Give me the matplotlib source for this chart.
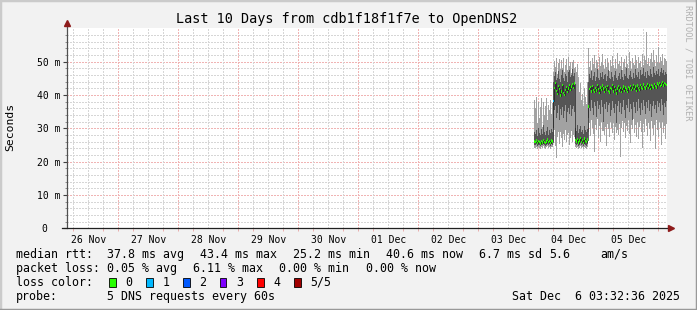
#!/usr/bin/env python3
# -*- coding: utf-8 -*-
"""
SmokePing style chart: Last 10 Days from cdb1f18f1f7e to OpenDNS2
"""

import datetime as dt
import matplotlib
matplotlib.use('Agg')
import matplotlib.pyplot as plt
import matplotlib.dates as mdates
from matplotlib.lines import Line2D
from matplotlib.patches import Rectangle

plt.rcParams['font.family'] = ['DejaVu Sans Mono']

W, H = 697, 310

# time range of graph
end_time = dt.datetime(2025, 12, 6, 3, 32, 36)
start_time = end_time - dt.timedelta(days=10)
data_start = dt.datetime(2025, 12, 3, 22, 20, 36)
step = dt.timedelta(minutes=24)

day_labels = ['26 Nov', '27 Nov', '28 Nov', '29 Nov', '30 Nov',
              '01 Dec', '02 Dec', '03 Dec', '04 Dec', '05 Dec']

# rtt in ms, one value per 24 min step (5 pings sorted: min, 2nd, median, 4th, max)
rtt_min = [
    24.2, 24.0, 24.5, 23.9, 24.3, 24.1, 23.8, 24.4, 24.0, 24.6, 24.2, 23.9, 24.3, 24.7, 24.0, 24.4, 23.9, 24.5, 24.3,
    26.0, 29.5, 24.8, 21.0, 27.5, 28.8, 25.2, 29.0, 27.0, 24.5, 28.2, 26.4, 29.4, 25.8, 27.9, 28.6, 24.9, 27.2, 29.2, 26.0, 28.0, 27.5,
    24.3, 24.0, 24.5, 23.9, 24.2, 24.6, 24.0, 24.3, 23.8, 24.5, 24.1, 23.9, 24.4,
    29.0, 31.5, 27.8, 32.6, 30.2, 28.4, 23.0, 31.0, 29.6, 32.8, 27.2, 30.8, 26.0, 31.9, 29.1, 29.3, 28.0, 30.5, 24.8, 31.4,
    29.8, 27.5, 32.0, 30.1, 28.7, 31.7, 26.5, 30.3, 28.5, 29.4, 27.9, 31.2, 21.5, 30.0, 32.2, 28.9, 31.6, 27.0, 30.7, 29.3,
    32.4, 28.2, 25.5, 31.1, 29.9, 32.7, 28.5, 30.9, 27.4, 31.8, 26.8, 30.4, 32.1, 29.0, 24.2, 31.3, 28.8, 32.9, 30.6, 27.7,
    31.5, 29.7, 26.2, 32.3, 30.2, 28.1, 31.0, 23.8, 32.6, 29.5, 27.3, 31.9, 30.1, 25.0, 32.0, 28.6, 30.8, 26.7, 31.2,
]
rtt_p2 = [
    25.0, 24.9, 25.2, 24.8, 25.1, 25.0, 24.7, 25.2, 24.9, 25.3, 25.0, 24.8, 25.1, 25.4, 24.9, 25.2, 24.8, 25.3, 25.1,
    30.0, 35.5, 36.8, 33.2, 34.6, 37.0, 32.5, 35.8, 34.0, 36.5, 33.0, 35.2, 36.9, 31.8, 35.0, 36.2, 34.4, 37.1, 33.6, 35.9, 36.6, 34.8,
    25.2, 24.9, 25.4, 24.8, 25.0, 25.5, 24.9, 25.2, 24.7, 25.4, 25.0, 24.8, 25.3,
    33.0, 37.5, 35.2, 38.4, 36.0, 34.1, 37.9, 36.6, 33.5, 38.2, 35.7, 37.0, 34.4, 38.6, 36.3, 32.0, 37.4, 35.9, 38.0, 34.8,
    36.9, 37.7, 33.8, 35.4, 38.3, 36.1, 34.6, 37.2, 31.5, 36.7, 38.1, 35.0, 37.6, 34.2, 36.4, 38.5, 35.6, 33.2, 37.1, 36.0,
    38.7, 34.9, 37.3, 35.8, 32.6, 38.0, 36.5, 34.7, 37.8, 35.3, 38.9, 36.2, 33.9, 37.5, 35.5, 38.4, 36.8, 34.3, 37.9, 36.0,
    38.6, 35.1, 37.2, 33.4, 36.6, 38.3, 35.7, 37.0, 34.6, 38.1, 36.3, 37.6, 35.2, 38.8, 36.9, 34.0, 37.7, 36.4, 38.2,
]
rtt_median = [
    26.0, 25.8, 26.3, 25.6, 26.1, 25.9, 25.4, 26.2, 25.7, 26.4, 25.9, 25.5, 26.0, 26.6, 25.8, 26.2, 25.6, 26.3, 26.0,
    38.2, 42.0, 43.5, 41.2, 40.3, 42.6, 41.8, 39.8, 41.0, 42.9, 40.6, 39.9, 41.5, 42.3, 40.8, 41.9, 43.0, 41.4, 42.5, 43.2, 42.1, 43.4,
    26.5, 26.0, 26.8, 25.7, 26.3, 27.0, 25.9, 26.4, 25.6, 26.9, 26.2, 25.8, 26.6,
    36.5, 41.8, 42.3, 41.0, 42.6, 41.5, 40.8, 42.0, 41.3, 42.9, 41.7, 40.6, 42.2, 41.4, 42.8, 41.9, 40.9, 42.4, 41.6, 42.7,
    41.2, 40.7, 42.1, 41.8, 42.9, 41.0, 42.3, 41.5, 40.4, 41.9, 42.6, 41.3, 42.0, 40.9, 41.7, 42.5, 41.1, 42.2, 41.6, 40.8,
    42.4, 41.9, 42.7, 41.4, 42.1, 43.0, 41.8, 42.5, 41.2, 42.8, 42.0, 41.5, 42.9, 42.2, 41.7, 43.1, 42.4, 41.9, 42.6, 43.2,
    42.0, 42.8, 41.8, 43.0, 42.5, 42.1, 43.3, 42.7, 42.2, 43.4, 42.9, 43.6, 42.6, 43.1, 43.8, 42.8, 43.5, 43.2, 42.9,
]
rtt_p4 = [
    29.0, 28.2, 29.5, 27.8, 30.2, 28.6, 28.0, 29.8, 28.4, 31.0, 28.8, 27.9, 29.2, 30.5, 28.1, 29.4, 28.5, 29.9, 29.0,
    44.0, 45.8, 46.9, 44.5, 45.2, 47.3, 44.8, 43.9, 46.0, 47.5, 45.1, 44.2, 46.4, 45.6, 44.0, 46.8, 47.6, 45.3, 46.1, 47.8, 45.7, 46.5,
    30.0, 29.2, 31.0, 28.6, 29.8, 30.6, 28.9, 29.5, 28.4, 30.8, 29.6, 28.8, 29.9,
    44.0, 46.2, 45.0, 47.3, 44.6, 45.8, 46.9, 44.2, 45.5, 47.8, 45.1, 44.4, 46.6, 45.3, 47.0, 44.8, 45.9, 46.4, 44.1, 45.6,
    47.5, 45.2, 44.7, 46.8, 45.4, 44.3, 46.1, 47.2, 45.0, 44.6, 45.7, 46.5, 44.9, 47.6, 45.3, 44.5, 46.3, 45.8, 48.2, 45.1,
    44.7, 46.0, 47.1, 45.5, 44.9, 46.7, 45.2, 47.9, 46.0, 45.4, 46.8, 44.8, 47.4, 45.9, 46.3, 48.0, 45.6, 46.9, 45.2, 47.3,
    46.1, 45.7, 47.7, 46.4, 45.3, 48.4, 46.6, 45.9, 47.2, 46.2, 47.8, 45.8, 46.9, 48.1, 46.5, 47.4, 46.0, 47.0, 46.3,
]
rtt_max = [
    38.5, 36.0, 39.5, 31.5, 37.8, 33.0, 36.5, 39.0, 30.5, 38.0, 34.0, 36.8, 39.2, 32.5, 37.0, 35.5, 38.6, 34.2, 37.5,
    47.0, 50.2, 48.5, 51.0, 46.2, 49.6, 50.8, 47.8, 50.5, 48.0, 51.2, 46.8, 49.0, 50.8, 47.5, 51.5, 48.8, 49.8, 46.5, 50.0, 50.6, 48.2,
    48.5, 47.0, 49.2, 45.5, 41.0, 43.5, 38.5, 40.2, 36.8, 42.0, 39.5, 37.2, 44.0,
    54.0, 48.5, 50.2, 47.6, 51.0, 49.3, 52.1, 48.0, 50.6, 49.8, 47.4, 51.5, 48.7, 50.0, 52.4, 49.0, 47.9, 50.9, 48.3, 51.2,
    49.6, 47.2, 50.4, 48.8, 51.7, 49.1, 48.2, 50.8, 47.7, 52.6, 49.4, 50.1, 48.6, 51.3, 47.5, 49.9, 50.7, 48.4, 51.6, 49.2,
    48.1, 53.0, 50.3, 47.8, 51.1, 49.5, 48.9, 52.0, 50.5, 48.0, 51.4, 49.7, 50.2, 48.5, 52.3, 49.0, 51.8, 50.6, 59.0, 49.3,
    51.2, 48.6, 50.9, 52.5, 49.8, 53.5, 50.4, 48.8, 51.9, 50.0, 54.5, 49.6, 51.5, 50.3, 52.2, 49.1, 51.0, 50.7, 50.2,
]
# lost pings per step (only non-zero steps listed: step index -> lost pings)
loss_steps = {19: 1}

loss_labels = ['0', '1', '2', '3', '4', '5/5']
loss_colors = ['#26ff00', '#00b8ff', '#0059ff', '#7e00ff', '#ff0000', '#a10000']

ytick_major = [0, 10, 20, 30, 40, 50]
ytick_labels = ['0  ', '10 m', '20 m', '30 m', '40 m', '50 m']
ytick_minor = [2, 4, 6, 8, 12, 14, 16, 18, 22, 24, 26, 28, 32, 34, 36, 38, 42, 44, 46, 48, 52, 54, 56, 58]

legend_rows = [
    ('median rtt:', [('37.8 ms avg', 107.3), ('43.4 ms max', 200), ('25.2 ms min', 293.3),
                     ('40.6 ms now', 385.7), ('6.7 ms sd', 479.3), ('5.6', 549), ('am/s', 600)]),
    ('packet loss:', [('0.05 % avg', 107.3), ('6.11 % max', 193.3), ('0.00 % min', 279.3),
                      ('0.00 % now', 365.7)]),
    ('loss color:', []),
    ('probe:', [('5 DNS requests every 60s', 107.3)]),
]

LIGHT = '#a2a2a2'
DARK = '#555555'
GRID = '#d6d6d6'
MGRID = '#f0b4b4'
ARROW = '#8e1b1b'


def fx(x):
    return x / W


def fy(y):
    return 1 - y / H


def main():
    fig = plt.figure(figsize=(W / 100, H / 100), dpi=100, facecolor='#f2f2f2')
    ax = fig.add_axes([fx(67), fy(228.3), 600 / W, 200 / H])
    ax.set_facecolor('white')

    n = len(rtt_median)
    t = [data_start + i * step for i in range(n + 1)]

    def ext(v):
        return list(v) + [v[-1]]

    # smoke
    ax.fill_between(t, ext(rtt_min), ext(rtt_max), step='post', color=LIGHT, lw=0,
                    antialiased=False, zorder=2)
    ax.fill_between(t, ext(rtt_p2), ext(rtt_p4), step='post', color=DARK, lw=0,
                    antialiased=False, zorder=3)
    ax.step(t, ext(rtt_median), where='post', color='#202020', lw=0.5, zorder=4)

    # median markers coloured by loss
    cols = [loss_colors[loss_steps.get(i, 0)] for i in range(n)]
    bottoms = [m - 0.35 for m in rtt_median]
    ax.bar(t[:-1], [0.7] * n, bottom=bottoms, width=step, align='edge',
           color=cols, lw=0, zorder=5)

    ax.set_xlim(start_time, end_time)
    ax.set_ylim(0, 60)

    # grid
    grid_kw = dict(lw=0.75, ls=(0, (1, 1)), antialiased=False)
    ax.set_yticks(ytick_major)
    ax.set_yticklabels(ytick_labels)
    ax.set_yticks(ytick_minor, minor=True)
    for v in ytick_minor:
        ax.axhline(v, color=GRID, zorder=1, **grid_kw)
    for v in ytick_major[1:]:
        ax.axhline(v, color=MGRID, zorder=1, **grid_kw)

    first_noon = dt.datetime(start_time.year, start_time.month, start_time.day, 12)
    noons = [first_noon + dt.timedelta(days=i) for i in range(len(day_labels))]
    ax.set_xticks(noons)
    ax.set_xticklabels(day_labels)
    ax.xaxis.set_minor_locator(mdates.HourLocator(byhour=[0, 6, 12, 18]))
    six_h = [first_noon - dt.timedelta(hours=6) + dt.timedelta(hours=6 * k) for k in range(41)]
    for d in six_h:
        if start_time < d < end_time:
            c = MGRID if d.hour == 0 else GRID
            ax.axvline(d, color=c, zorder=1, **grid_kw)

    ax.tick_params(axis='y', which='major', length=3, width=0.8, color='#404040',
                   labelsize=7, pad=2)
    ax.tick_params(axis='y', which='minor', length=1.5, width=0.6, color='#808080')
    ax.tick_params(axis='x', which='major', length=0, labelsize=7, pad=4.5)
    ax.tick_params(axis='x', which='minor', length=2, width=0.6, color='#e8a0a0')

    for s in ax.spines.values():
        s.set_visible(False)
    # axes with arrows
    ax.add_line(Line2D([0, 0], [0, 1.02], transform=ax.transAxes, color='#505050',
                       lw=0.9, clip_on=False, zorder=6))
    ax.add_line(Line2D([-0.008, 1.005], [0, 0], transform=ax.transAxes, color='#202020',
                       lw=0.9, clip_on=False, zorder=6))
    ax.plot([0], [1.025], transform=ax.transAxes, marker='^', ms=5, color=ARROW,
            clip_on=False, zorder=7)
    ax.plot([1.007], [0], transform=ax.transAxes, marker='>', ms=5, color=ARROW,
            clip_on=False, zorder=7)

    # title and labels
    fig.text(fx(347), fy(19), 'Last 10 Days from cdb1f18f1f7e to OpenDNS2',
             ha='center', va='center', fontsize=9.75)
    fig.text(fx(10.5), fy(127), 'Seconds', rotation=90, ha='center', va='center',
             fontsize=8.2)
    fig.text(fx(688), fy(5), 'RRDTOOL / TOBI OETIKER', rotation=-90, ha='center',
             va='top', fontsize=6.2, color='#b0b0b0')

    # legend
    row_y = [254.3, 268.3, 282.3, 296.3]
    for (head, items), y in zip(legend_rows, row_y):
        fig.text(fx(16), fy(y), head, ha='left', va='center', fontsize=8.4)
        for txt, x in items:
            fig.text(fx(x), fy(y), txt, ha='left', va='center', fontsize=8.4)
    for i, (lab, col) in enumerate(zip(loss_labels, loss_colors)):
        bx = 109 + 37 * i
        fig.patches.append(Rectangle((fx(bx), fy(286.7)), 6.5 / W, 8.4 / H,
                                     transform=fig.transFigure, facecolor=col,
                                     edgecolor='black', lw=0.6))
        fig.text(fx(bx + 16.3), fy(row_y[2]), lab, ha='left', va='center', fontsize=8.4)
    fig.text(fx(680), fy(row_y[3]), 'Sat Dec  6 03:32:36 2025', ha='right',
             va='center', fontsize=8.4)

    # 3d border
    fig.add_artist(Line2D([0, 0], [0, 1], transform=fig.transFigure, color='#cbcbcb', lw=2.5))
    fig.add_artist(Line2D([0, 1], [1, 1], transform=fig.transFigure, color='#cbcbcb', lw=2.5))
    fig.add_artist(Line2D([1, 1], [0, 1], transform=fig.transFigure, color='#999999', lw=2.5))
    fig.add_artist(Line2D([0, 1], [0, 0], transform=fig.transFigure, color='#999999', lw=2.5))

    fig.savefig('out.png', dpi=100, facecolor=fig.get_facecolor())
    plt.close(fig)


if __name__ == '__main__':
    main()
